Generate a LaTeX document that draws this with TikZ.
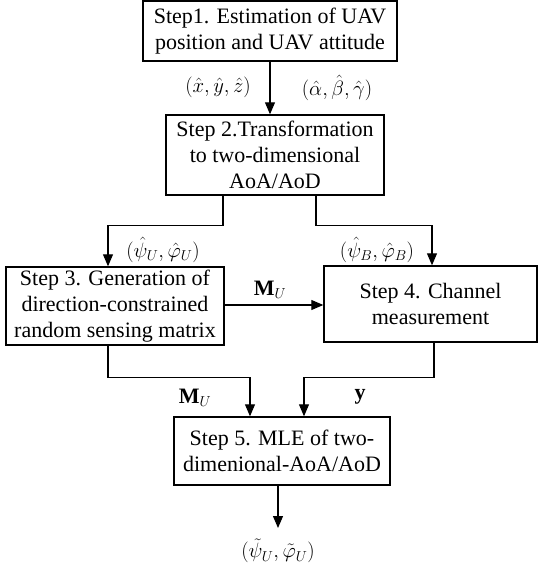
\documentclass[tikz,border=0pt]{standalone}
\usepackage{fontspec}
\setmainfont{Liberation Serif}
\usetikzlibrary{arrows.meta}
\begin{document}
\begin{tikzpicture}[x=1pt,y=-1pt,
  box/.style={draw, line width=1.4pt, inner sep=0pt, align=center, font=\fontsize{22}{26}\selectfont},
  lab/.style={inner sep=0pt, font=\fontsize{22}{26}\selectfont},
  arr/.style={line width=1.1pt, -{Triangle[length=12pt,width=10pt]}},
  ]
\useasboundingbox (0,0) rectangle (538,569);
\node[box, minimum width=254pt, minimum height=60pt] (s1) at (270,31) {Step1. Estimation of UAV\\position and UAV attitude};
\node[box, minimum width=218pt, minimum height=80pt] (s2) at (275,155) {Step 2.Transformation\\to two-dimensional\\AoA/AoD};
\node[box, minimum width=218pt, minimum height=78pt] (s3) at (115,306) {Step 3. Generation of\\direction-constrained\\random sensing matrix};
\node[box, minimum width=213pt, minimum height=76pt] (s4) at (430.5,304) {Step 4. Channel\\measurement};
\node[box, minimum width=216pt, minimum height=68pt] (s5) at (282,451) {Step 5. MLE of two-\\dimenional-AoA/AoD};
\coordinate (o) at (278,528);
\node[lab] (out) at (278,551) {$(\tilde{\psi}_U,\tilde{\varphi}_U)$};

\node[lab] (l1) at (218,87) {$(\hat{x},\hat{y},\hat{z})$};
\node[lab] (l2) at (337,88) {$(\hat{\alpha},\hat{\beta},\hat{\gamma})$};
\node[lab] (l3) at (163,250) {$(\hat{\psi}_U,\hat{\varphi}_U)$};
\node[lab] (l4) at (377,250) {$(\hat{\psi}_B,\hat{\varphi}_B)$};
\node[lab] (l5) at (270,290) {$\mathbf{M}_U$};
\node[lab] (l6) at (195,398) {$\mathbf{M}_U$};
\node[lab] (l7) at (360,397) {$\mathbf{y}$};

\draw[arr] (s1.south) -- (s1.south |- s2.north);
\draw[arr] ([xshift=-52pt]s2.south) -- ++(0,30) -| ([xshift=-7pt]s3.north);
\draw[arr] ([xshift=41pt]s2.south) -- ++(0,30) -| ([xshift=1.5pt]s4.north);
\draw[arr] ([yshift=1pt]s3.east) -- ([yshift=1pt]s3.east -| s4.west);
\draw[arr] ([xshift=-7pt]s3.south) -- ++(0,32) -| ([xshift=-32pt]s5.north);
\draw[arr] ([xshift=3.5pt]s4.south) -- ++(0,35) -| ([xshift=22pt]s5.north);
\draw[arr] (o |- s5.south) -- (o);
\end{tikzpicture}
\end{document}
